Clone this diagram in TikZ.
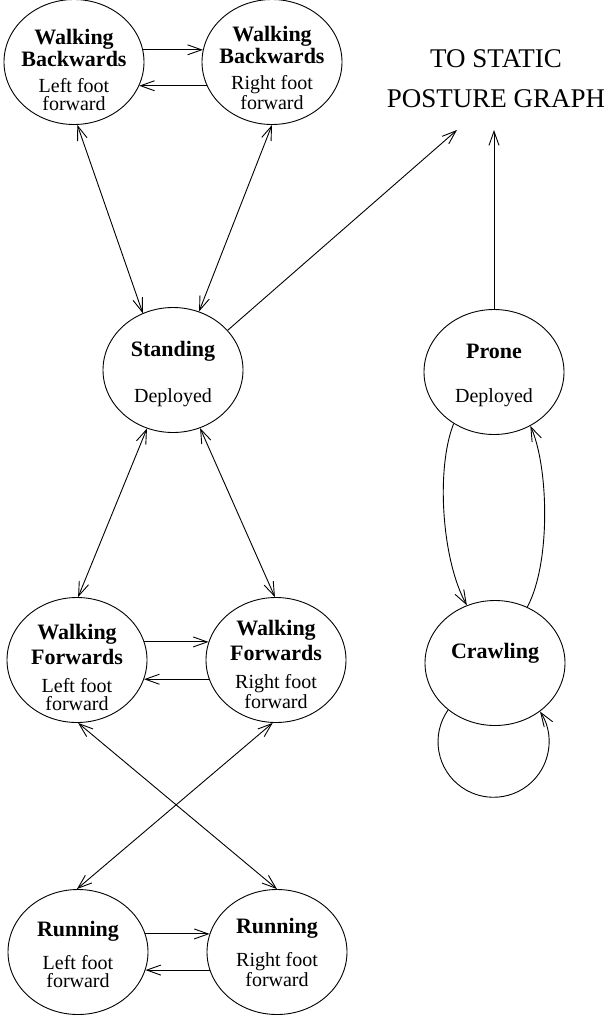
\documentclass[tikz,border=0pt]{standalone}
\usepackage{fontspec}
\setmainfont{Liberation Serif}
\usetikzlibrary{arrows.meta,shapes.geometric,calc}
\newcommand\hb[1]{{\bfseries\fontsize{22}{18}\selectfont #1}}
\begin{document}
\begin{tikzpicture}[x=1pt,y=1pt,
  st/.style={draw, ellipse, minimum width=140pt, minimum height=125pt, inner sep=0pt, line width=0.9pt},
  txt/.style={align=center, anchor=base, inner sep=0pt, font=\fontsize{20}{17.5}\selectfont},
  arr/.style={line width=0.9pt, -{Straight Barb[length=14pt,width=10pt]}},
  darr/.style={line width=0.9pt, {Straight Barb[length=14pt,width=10pt]}-{Straight Barb[length=14pt,width=10pt]}}
]
\useasboundingbox (0,0) rectangle (604,-1015);

% states
\node[st] (wbl) at (74,-62) {};
\node[st] (wbr) at (272,-62) {};
\node[st] (std) at (173,-370) {};
\node[st] (prone) at (494,-372) {};
\node[st] (crawl) at (495,-663) {};
\node[st] (wfl) at (77,-660) {};
\node[st] (wfr) at (276,-660) {};
\node[st] (rnl) at (78,-952) {};
\node[st] (rnr) at (277,-952) {};

% texts (anchor = baseline of the last line)
\node[txt] (wblt) at ($(wbl)+(0,-48)$) {\hb{Walking}\\[0pt]\hb{Backwards}\\[9pt]Left foot\\forward};
\node[txt] (wbrt) at ($(wbr)+(0,-47)$) {\hb{Walking}\\[0pt]\hb{Backwards}\\[9pt]Right foot\\forward};
\node[txt] (stdt) at ($(std)+(0,-32)$) {\hb{Standing}\\[26pt]Deployed};
\node[txt] (pronet) at ($(prone)+(0,-30)$) {\hb{Prone}\\[26pt]Deployed};
\node[txt] (crawlt) at ($(crawl)+(0,5)$) {\hb{Crawling}};
\node[txt] (wflt) at ($(wfl)+(0,-50)$) {\hb{Walking}\\[3pt]\hb{Forwards}\\[11pt]Left foot\\forward};
\node[txt] (wfrt) at ($(wfr)+(0,-48)$) {\hb{Walking}\\[3pt]\hb{Forwards}\\[11pt]Right foot\\forward};
\node[txt] (rnlt) at ($(rnl)+(0,-35)$) {\hb{Running}\\[13pt]Left foot\\forward};
\node[txt] (rnrt) at ($(rnr)+(0,-34)$) {\hb{Running}\\[13pt]Right foot\\forward};

\node[align=center, anchor=base, inner sep=0pt, font=\fontsize{27}{40}\selectfont] (tsp) at (496,-107) {TO STATIC\\POSTURE GRAPH};
\coordinate (t1) at (457,-130);
\coordinate (t2) at (494,-130);

% horizontal transitions
\draw[arr] (wbl.10) -- (wbr.170);
\draw[arr] (wbr.-160) -- (wbl.-20);
\draw[arr] (wfl.15) -- (wfr.165);
\draw[arr] (wfr.-164) -- (wfl.-16);
\draw[arr] (rnl.15) -- (rnr.165);
\draw[arr] (rnr.-165) -- (rnl.-15);

% double-headed transitions
\draw[darr] (wbl.-87) -- (std.118);
\draw[darr] (wbr.-90) -- (std.66);
\draw[darr] (std.-114) -- (wfl.89);
\draw[darr] (std.-65) -- (wfr.91);
\draw[darr] (wfl.-89) -- (rnr.90);
\draw[darr] (wfr.-93) -- (rnl.91);

% to static posture graph
\draw[arr] (std.36) -- (t1);
\draw[arr] (prone.90) -- (t2);

% prone / crawling
\draw[arr] (prone.-128) .. controls +(-18,-45) and +(-25,45) .. (crawl.116);
\draw[arr] (crawl.60) .. controls +(24,45) and +(18,-40) .. (prone.-56);
\draw[arr] (crawl.-135) arc[start angle=145, end angle=393, radius=55.5];
\end{tikzpicture}
\end{document}
